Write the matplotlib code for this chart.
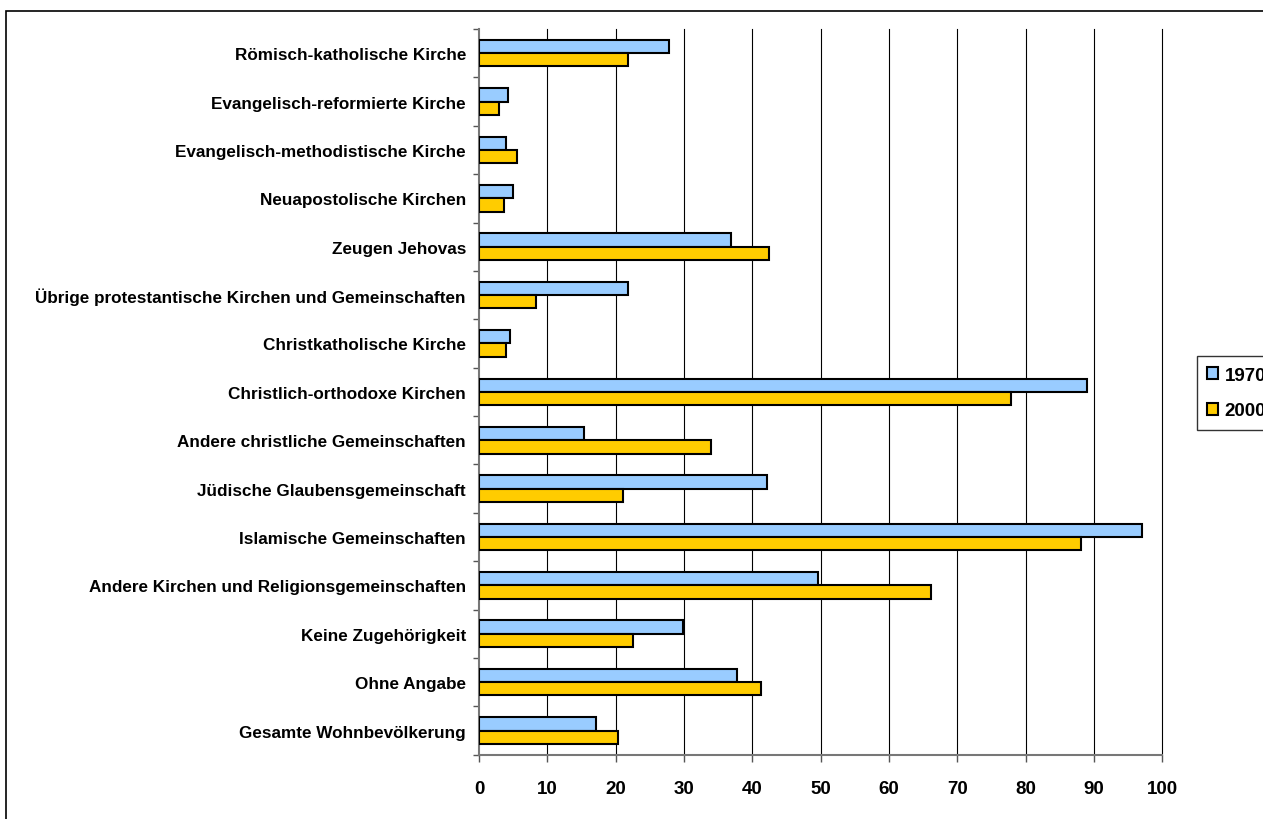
import matplotlib
matplotlib.use("Agg")
import matplotlib.pyplot as plt
import numpy as np
from matplotlib.patches import Rectangle

categories = [
    "Römisch-katholische Kirche",
    "Evangelisch-reformierte Kirche",
    "Evangelisch-methodistische Kirche",
    "Neuapostolische Kirchen",
    "Zeugen Jehovas",
    "Übrige protestantische Kirchen und Gemeinschaften",
    "Christkatholische Kirche",
    "Christlich-orthodoxe Kirchen",
    "Andere christliche Gemeinschaften",
    "Jüdische Glaubensgemeinschaft",
    "Islamische Gemeinschaften",
    "Andere Kirchen und Religionsgemeinschaften",
    "Keine Zugehörigkeit",
    "Ohne Angabe",
    "Gesamte Wohnbevölkerung",
]
values_1970 = [27.8, 4.2, 3.9, 5.0, 36.9, 21.8, 4.6, 89.0, 15.3, 42.2, 97.1, 49.6, 29.8, 37.8, 17.1]
values_2000 = [21.8, 3.0, 5.5, 3.7, 42.4, 8.4, 3.9, 77.9, 34.0, 21.1, 88.1, 66.1, 22.6, 41.2, 20.4]
series_labels = ["1970", "2000"]
x_ticks = [0, 10, 20, 30, 40, 50, 60, 70, 80, 90, 100]

plt.rcParams['font.family'] = ['Liberation Sans', 'DejaVu Sans']
plt.rcParams['font.weight'] = 'bold'

W, H = 1263, 820
fig = plt.figure(figsize=(W / 100, H / 100), dpi=100)
ax = fig.add_axes([479 / W, (H - 755.7) / H, (1162.3 - 479) / W, (755.7 - 30) / H])

y = np.arange(len(categories))
h = 0.275
ax.barh(y - h / 2, values_1970, height=h, color="#99CCFF", edgecolor="black",
        linewidth=1.5, label=series_labels[0], zorder=3)
ax.barh(y + h / 2, values_2000, height=h, color="#FFCC00", edgecolor="black",
        linewidth=1.5, label=series_labels[1], zorder=3)

ax.set_xlim(0, 100)
ax.set_ylim(len(categories) - 0.5, -0.5)
ax.set_xticks(x_ticks)
ax.set_xticklabels([str(t) for t in x_ticks], fontsize=13.5, fontweight='bold')
ax.tick_params(axis='x', length=5, width=1, color='#555555', pad=13)
for t in x_ticks[1:]:
    ax.axvline(t, color='black', linewidth=0.8, zorder=1, clip_on=False)

ax.set_yticks(y)
ax.set_yticklabels(categories, fontsize=12.3, fontweight='bold')
ax.tick_params(axis='y', which='major', length=0, pad=9.4)
ax.set_yticks(np.arange(-0.5, len(categories) + 0.5, 1), minor=True)
ax.tick_params(axis='y', which='minor', length=4, width=1, color='#555555')

for s in ['top', 'right']:
    ax.spines[s].set_visible(False)
for s in ['left', 'bottom']:
    ax.spines[s].set_color('#777777')
    ax.spines[s].set_linewidth(1.5)

leg = fig.legend(loc='upper left', bbox_to_anchor=(1196.7 / W, 1 - 357.3 / H),
                 frameon=True, fancybox=False, edgecolor='black',
                 prop={'weight': 'bold', 'size': 13.5},
                 handlelength=0.6, handleheight=0.6, handletextpad=0.35,
                 borderpad=0.55, labelspacing=1.0, borderaxespad=0)
leg.get_frame().set_linewidth(1.0)

fig.patches.append(Rectangle((6 / W, -0.1), 2.0, 1.1 - 12 / H, transform=fig.transFigure,
                             fill=False, edgecolor='black', linewidth=1.2, clip_on=False))

fig.savefig("out.png", dpi=100)
